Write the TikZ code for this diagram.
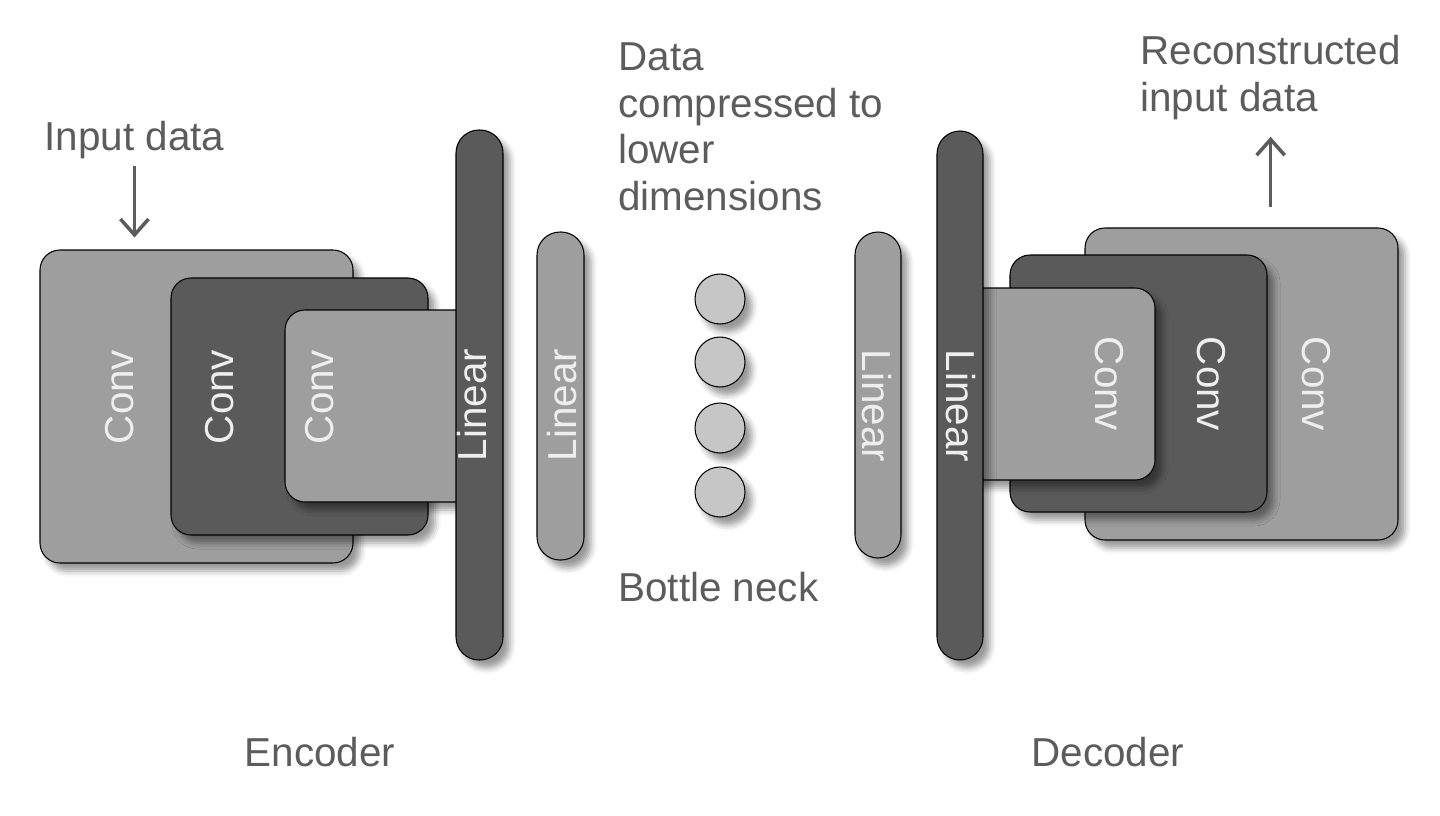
\documentclass[tikz,border=0pt]{standalone}
\usepackage{fontspec}
\setmainfont{Liberation Sans}
\usetikzlibrary{arrows.meta,shadows.blur,fit}
\definecolor{boxlight}{HTML}{9E9E9E}
\definecolor{boxdark}{HTML}{5A5A5A}
\definecolor{neuron}{HTML}{C6C6C6}
\definecolor{textgray}{HTML}{5C5C5C}
\definecolor{textlight}{HTML}{EEEEEE}
\tikzset{
  layer/.style={draw=black, line width=0.6pt, inner sep=0pt,
    blur shadow={shadow xshift=0.14cm, shadow yshift=-0.16cm, shadow blur radius=0.12cm, shadow opacity=40}},
  convbox/.style={layer, rounded corners=0.4cm},
  linbar/.style={layer, rounded corners=0.46cm},
  light/.style={fill=boxlight},
  dark/.style={fill=boxdark},
  unit/.style={layer, circle, fill=neuron, minimum size=1cm},
  tag/.style={text=textlight, font=\fontsize{23}{27}\selectfont, inner sep=0pt},
  caption/.style={text=textgray, font=\fontsize{23}{26.7}\selectfont, inner sep=0pt, align=left},
  flow/.style={draw=textgray, line width=2pt, -{Straight Barb[length=9pt,width=16pt]}}
}
\begin{document}
\begin{tikzpicture}[x=0.02cm, y=-0.02cm]
\useasboundingbox (0,0) rectangle (1440,815);
\node[convbox, light, fit={(40,250)(353,563)}] (encA) {};
\node[convbox, dark, fit={(171,278)(428,535)}] (encB) {};
\node[convbox, light, fit={(285,310)(480,502)}] (encC) {};
\node[linbar, dark, fit={(456,130)(503,660)}] (encL) {};
\node[linbar, light, fit={(537,232)(584,560)}] (encS) {};
\node[tag, rotate=90] (encAt) at (120,397) {Conv};
\node[tag, rotate=90] (encBt) at (220,397) {Conv};
\node[tag, rotate=90] (encCt) at (320,397) {Conv};
\node[tag, rotate=90] (encLt) at (472,405) {Linear};
\node[tag, rotate=90] (encSt) at (562,405) {Linear};
\node[unit] (n1) at (720,299) {};
\node[unit] (n2) at (720,362) {};
\node[unit] (n3) at (720,428) {};
\node[unit] (n4) at (720,492) {};
\node[linbar, light, fit={(855,232)(901,558)}] (decS) {};
\node[convbox, light, fit={(1085,228)(1398,540)}] (decA) {};
\node[convbox, dark, fit={(1010,255)(1267,512)}] (decB) {};
\node[convbox, light, fit={(960,288)(1155,480)}] (decC) {};
\node[linbar, dark, fit={(937,131)(983,660)}] (decL) {};
\node[tag, rotate=-90] (decSt) at (877,406) {Linear};
\node[tag, rotate=-90] (decLt) at (961,406) {Linear};
\node[tag, rotate=-90] (decCt) at (1109,384) {Conv};
\node[tag, rotate=-90] (decBt) at (1211,384) {Conv};
\node[tag, rotate=-90] (decAt) at (1316,384) {Conv};
\node[caption] (inlabel) at (134.5,140) {Input data};
\node[caption, anchor=north west] (zlabel) at (618,42) {Data\\compressed to\\lower\\dimensions};
\node[caption, anchor=west] (bneck) at (618,587) {Bottle neck};
\node[caption, anchor=north west] (outlabel) at (1140,35) {Reconstructed\\input data};
\node[caption] (enclabel) at (320,752) {Encoder};
\node[caption] (declabel) at (1108,752) {Decoder};
\draw[flow, shorten <=0.14cm, shorten >=0.24cm] (inlabel.south) -- (inlabel.south |- encA.north);
\draw[flow, shorten <=0.4cm, shorten >=0.33cm] (outlabel.south |- decA.north) -- (outlabel.south);
\end{tikzpicture}
\end{document}
